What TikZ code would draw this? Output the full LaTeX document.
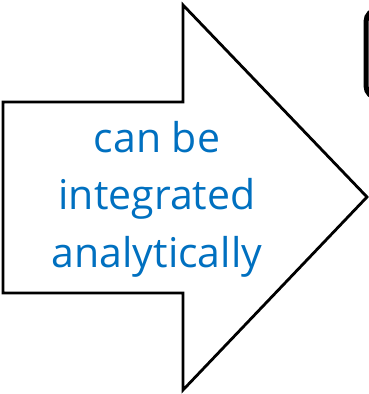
\documentclass[tikz,border=0pt]{standalone}
\usepackage{fontspec}
\setmainfont{Open Sans}
\usepackage{xcolor}
\definecolor{officeBlue}{RGB}{0, 112, 192}

\begin{document}
\begin{tikzpicture}[x=1pt,y=-1pt]
    \useasboundingbox (0,0) rectangle (369,394);
    \clip (0,0) rectangle (369,394);

    % Block arrow
    \draw[line width=2.8pt,line join=miter,fill=white] (3,102) -- (183,102) -- (183,5) -- (367,197) -- (183,390) -- (183,293) -- (3,293) -- cycle;

    % Label inside the arrow
    \node[text=officeBlue,align=center,anchor=base,inner sep=0pt,font=\fontsize{41}{57.5}\selectfont] (lbl) at (157,267) {can be\\integrated\\analytically};

    % Box at the right border
    \draw[line width=5pt,rounded corners=12pt] (366,9.5) rectangle (430,98);
\end{tikzpicture}
\end{document}
